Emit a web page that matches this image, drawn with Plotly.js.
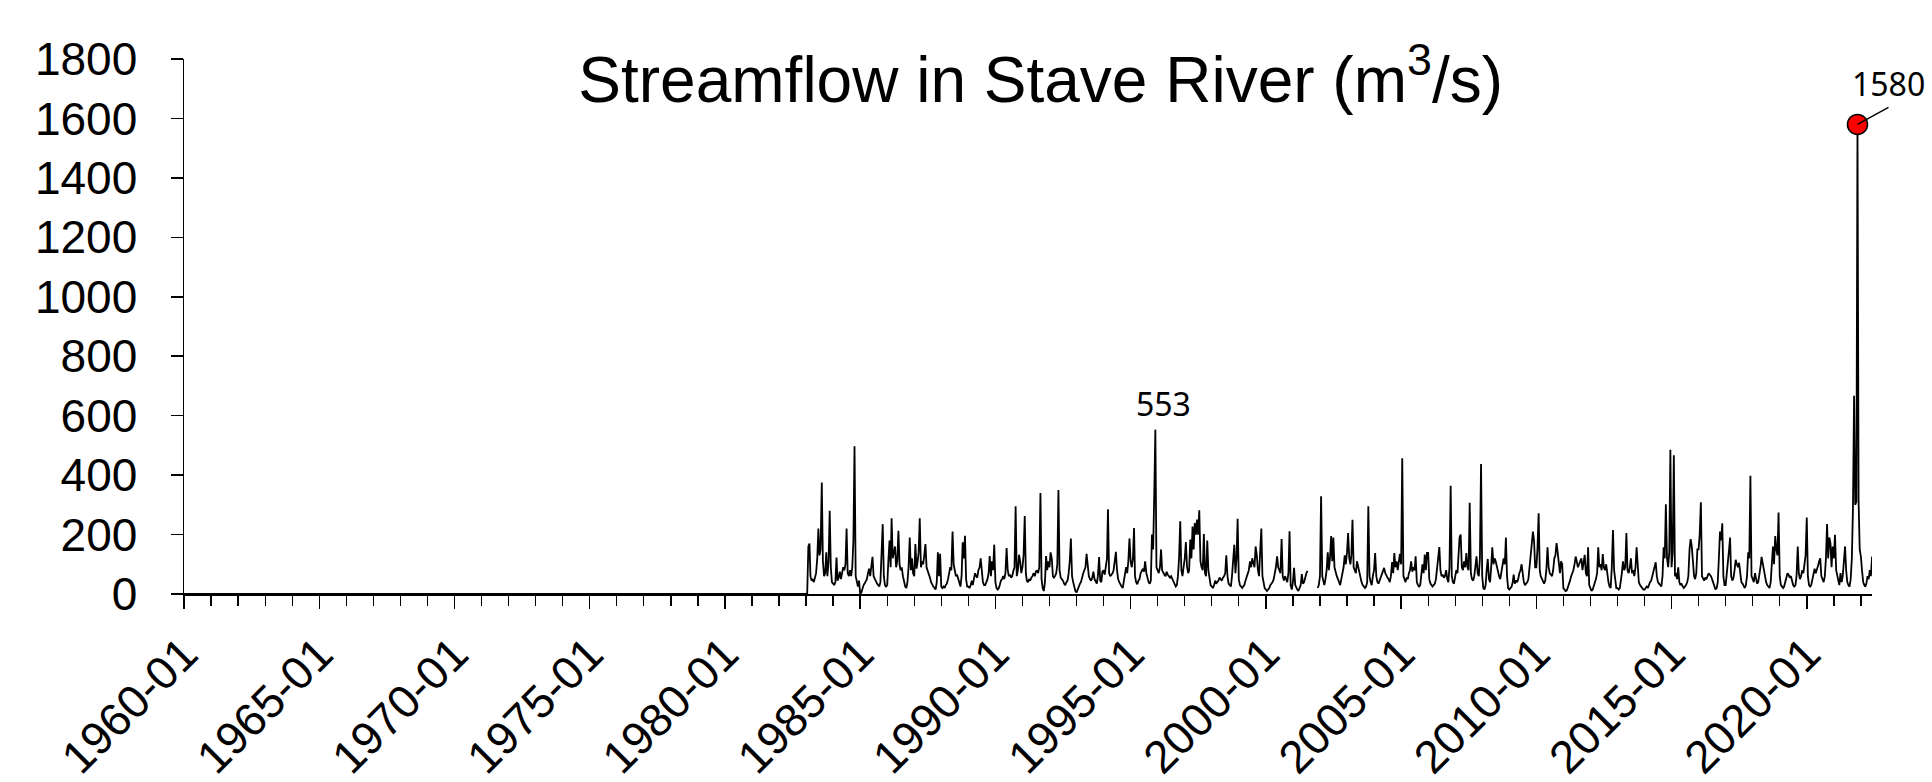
<!DOCTYPE html>
<html><head><meta charset="utf-8">
<script src="https://cdn.plot.ly/plotly-3.0.1.min.js"></script>
<style>html,body{margin:0;padding:0;background:#fff}#chart{width:1932px;height:782px}</style>
</head><body><div id="chart"></div>
<script>
// ---- chart text ----
const chartTitle = 'Streamflow in Stave River (m<sup>3</sup>/s)';
const yTickVals = [0, 200, 400, 600, 800, 1000, 1200, 1400, 1600, 1800];
const xRange = ['1960-01-01', '2022-05-31'];

// ---- data: no record (plotted as 0) before 1983 ----
const preDates = ['1960-01-01'];
const preFlow = [0];

// ---- semi-monthly flow values (1st and 16th of each month) ----
const flow1983to1989 = [
  0,0,160,170,60,45,50,40,55,70,120,220,130,150,375,110,60,70,140,60,110,280,90,40,
  35,30,40,123,45,55,75,50,70,90,80,100,220,70,60,80,60,90,180,497,60,35,25,45,
  0,5,20,30,35,45,50,70,85,60,90,125,60,50,40,35,30,25,40,120,235,60,30,25,
  30,110,180,90,255,120,140,160,90,110,213,100,80,90,60,40,25,20,40,90,190,80,120,70,
  60,168,85,110,140,255,90,110,100,130,168,90,80,70,55,40,30,25,20,15,40,140,60,135,
  25,20,25,20,30,35,50,70,90,80,210,100,70,60,65,50,40,25,60,174,120,196,50,25,
  25,20,30,45,30,50,70,60,55,80,90,120,60,40,30,30,40,50,70,128,60,110,80,166
];
const flow1990s = [
  40,20,15,20,30,45,50,60,50,70,155,80,60,65,55,60,78,90,295,60,80,132,110,70,
  90,130,262,70,45,40,50,45,55,60,70,60,75,80,70,90,340,50,20,10,40,128,80,110,
  90,140,120,60,55,60,70,100,350,80,55,50,45,35,30,40,45,70,110,187,60,40,20,10,
  5,15,30,35,40,60,70,80,90,135,98,60,50,45,55,75,50,40,35,60,124,45,40,75,
  80,65,90,120,285,70,60,65,70,80,110,142,80,50,40,30,25,20,40,60,90,70,110,187,
  110,90,120,222,60,40,33,45,50,70,80,85,75,110,70,50,40,35,45,200,150,336,553,90,
  80,70,90,150,80,70,65,60,75,65,60,55,60,50,40,30,25,30,60,120,245,80,60,90,
  120,175,90,70,80,183,120,227,150,239,200,250,200,282,110,90,80,202,70,60,180,80,50,30,
  25,20,30,45,35,40,45,55,50,45,55,60,70,130,60,35,30,25,60,120,166,70,120,253,
  50,30,25,20,25,30,45,60,70,80,110,90,120,100,90,160,130,80,60,140,220,60,40,20
];
const flow2000s = [
  15,10,15,20,30,35,40,50,70,90,127,90,80,70,185,60,45,60,50,40,70,211,30,15,
  40,88,30,20,15,10,20,30,67,35,40,60,70,78,null,null,null,null,null,null,null,null,20,30,
  60,329,60,40,30,50,80,140,80,120,195,110,190,90,70,60,50,40,30,50,70,90,130,100,
  140,205,120,100,130,250,90,80,70,110,90,70,60,40,30,25,20,25,40,295,60,40,30,60,
  80,138,60,40,35,45,55,65,75,88,70,60,55,50,40,60,107,70,138,90,110,80,120,135,
  100,457,60,45,40,55,50,70,80,110,75,90,80,127,40,30,25,30,60,100,70,133,80,138,
  138,50,35,30,25,30,35,50,80,118,158,80,60,65,55,60,80,50,40,90,364,60,40,35,
  60,80,70,120,190,200,90,80,110,90,138,90,80,307,70,50,45,60,110,127,70,60,120,437,
  60,20,15,30,80,118,50,40,90,157,100,120,110,90,70,60,50,80,107,120,100,190,60,20,
  15,20,25,40,65,35,45,40,50,70,80,100,60,40,30,35,40,50,90,128,150,210,180,90
];
const flow2010s = [
  90,150,272,80,60,50,40,35,45,80,157,90,70,65,60,80,120,130,171,140,90,70,110,100,
  20,15,10,12,20,30,45,60,70,80,100,126,110,90,100,110,120,80,110,132,70,60,157,30,
  20,10,15,25,40,50,70,157,90,100,80,134,90,80,100,60,40,25,20,90,215,80,40,20,
  20,15,20,40,70,110,80,90,205,80,70,90,120,70,80,60,90,157,80,40,30,25,20,15,
  15,20,25,20,30,40,45,60,80,90,107,60,40,35,30,25,60,157,120,302,120,90,140,485,
  90,140,467,60,70,50,90,40,30,35,25,20,25,30,40,60,150,185,160,90,60,50,70,150,
  150,200,309,60,50,45,55,50,60,70,65,60,50,40,25,15,20,40,120,210,180,238,60,30,
  30,80,100,150,190,60,45,55,80,115,100,90,105,60,40,35,25,20,30,60,140,120,398,60,
  50,40,70,45,35,40,60,90,125,100,80,55,40,30,25,20,40,90,160,100,195,150,130,274,
  60,30,25,20,25,40,60,70,65,55,60,40,30,25,30,60,160,70,50,60,80,70,100,130
];
const flow2020s = [
  257,60,30,25,30,50,70,85,70,80,95,110,120,60,45,40,60,120,235,120,190,170,90,160,
  120,199,80,60,40,30,70,40,60,100,160,80,40,30,25,50,120,289,667,300,311,1580,311,150,
  126,80,40,30,25,35,60,50,80,60,126
];

// ---- build series ----
function semiMonthlyDates(startYear, n) {
  const out = [];
  for (let i = 0; i < n; i++) {
    const y = startYear + Math.floor(i / 24);
    const m = Math.floor((i % 24) / 2) + 1;
    const d = (i % 2 === 0) ? '01' : '16';
    out.push(y + '-' + String(m).padStart(2, '0') + '-' + d);
  }
  return out;
}
const recFlow = [].concat(flow1983to1989, flow1990s, flow2000s, flow2010s, flow2020s);
const recDates = semiMonthlyDates(1983, recFlow.length);
const xs = preDates.concat(recDates);
const ys = preFlow.concat(recFlow);

// peaks to label
let maxIdx = 0;
recFlow.forEach((v, i) => { if (v !== null && v > recFlow[maxIdx]) maxIdx = i; });
const off90 = flow1983to1989.length;
let idx90 = 0;
flow1990s.forEach((v, i) => { if (v > flow1990s[idx90]) idx90 = i; });

const traces = [
  { type: 'scatter', mode: 'lines', x: xs, y: ys, connectgaps: false,
    line: { color: '#000', width: 1.8 }, hoverinfo: 'skip', showlegend: false },
  { type: 'scatter', mode: 'markers', x: [recDates[maxIdx]], y: [recFlow[maxIdx]],
    marker: { color: '#FF0000', size: 20, line: { color: '#000', width: 1.5 } },
    cliponaxis: false, showlegend: false, hoverinfo: 'skip' }
];

const tickFont = { family: 'Liberation Sans, Arial, sans-serif', size: 46, color: '#000' };
const annFont = { family: 'Noto Sans, sans-serif', size: 32, color: '#000' };

const layout = {
  width: 1932, height: 782,
  margin: { l: 184, r: 60, t: 59, b: 188, pad: 0 },
  paper_bgcolor: '#fff', plot_bgcolor: '#fff',
  showlegend: false,
  title: { text: chartTitle, font: { family: 'Liberation Sans, Arial, sans-serif', size: 64, color: '#000' },
           x: 0.5075, xref: 'paper', xanchor: 'center', y: 0.898, yref: 'container', yanchor: 'middle' },
  xaxis: {
    type: 'date', range: xRange, tick0: '1960-01-01', dtick: 'M60', tickformat: '%Y-%m',
    tickangle: -45, ticks: 'outside', ticklen: 13, tickwidth: 1.5, tickcolor: '#000',
    showline: true, linecolor: '#000', linewidth: 1.5, showgrid: false, zeroline: false,
    tickfont: tickFont,
    minor: { tick0: '1960-01-01', dtick: 'M12', ticks: 'outside', ticklen: 10, tickwidth: 1.3, tickcolor: '#000', showgrid: false }
  },
  xaxis2: {
    type: 'date', range: xRange, overlaying: 'x', anchor: 'y', side: 'bottom',
    tick0: '1960-01-01', dtick: 'M60', ticks: 'inside', ticklen: 13, tickwidth: 1.5, tickcolor: '#000',
    showticklabels: false, showline: false, showgrid: false, zeroline: false
  },
  yaxis: {
    range: [0, 1800], tickvals: yTickVals, ticks: 'outside', ticklen: 12, tickwidth: 1.5, tickcolor: '#000',
    showline: true, linecolor: '#000', linewidth: 1.5, showgrid: false, zeroline: false,
    tickfont: tickFont, ticklabelstandoff: 24
  },
  annotations: [
    { x: recDates[off90 + idx90], y: flow1990s[idx90], text: String(flow1990s[idx90]),
      showarrow: false, xshift: 8, yshift: 26, font: annFont },
    { x: recDates[maxIdx], y: recFlow[maxIdx], text: String(recFlow[maxIdx]), font: annFont,
      xanchor: 'center', yanchor: 'bottom',
      showarrow: true, arrowhead: 0, arrowwidth: 1.4, arrowcolor: '#000', ax: 31, ay: -17, standoff: 0, startstandoff: 0 }
  ]
};

Plotly.newPlot('chart', traces, layout, { staticPlot: true, displayModeBar: false });
</script>
</body></html>
